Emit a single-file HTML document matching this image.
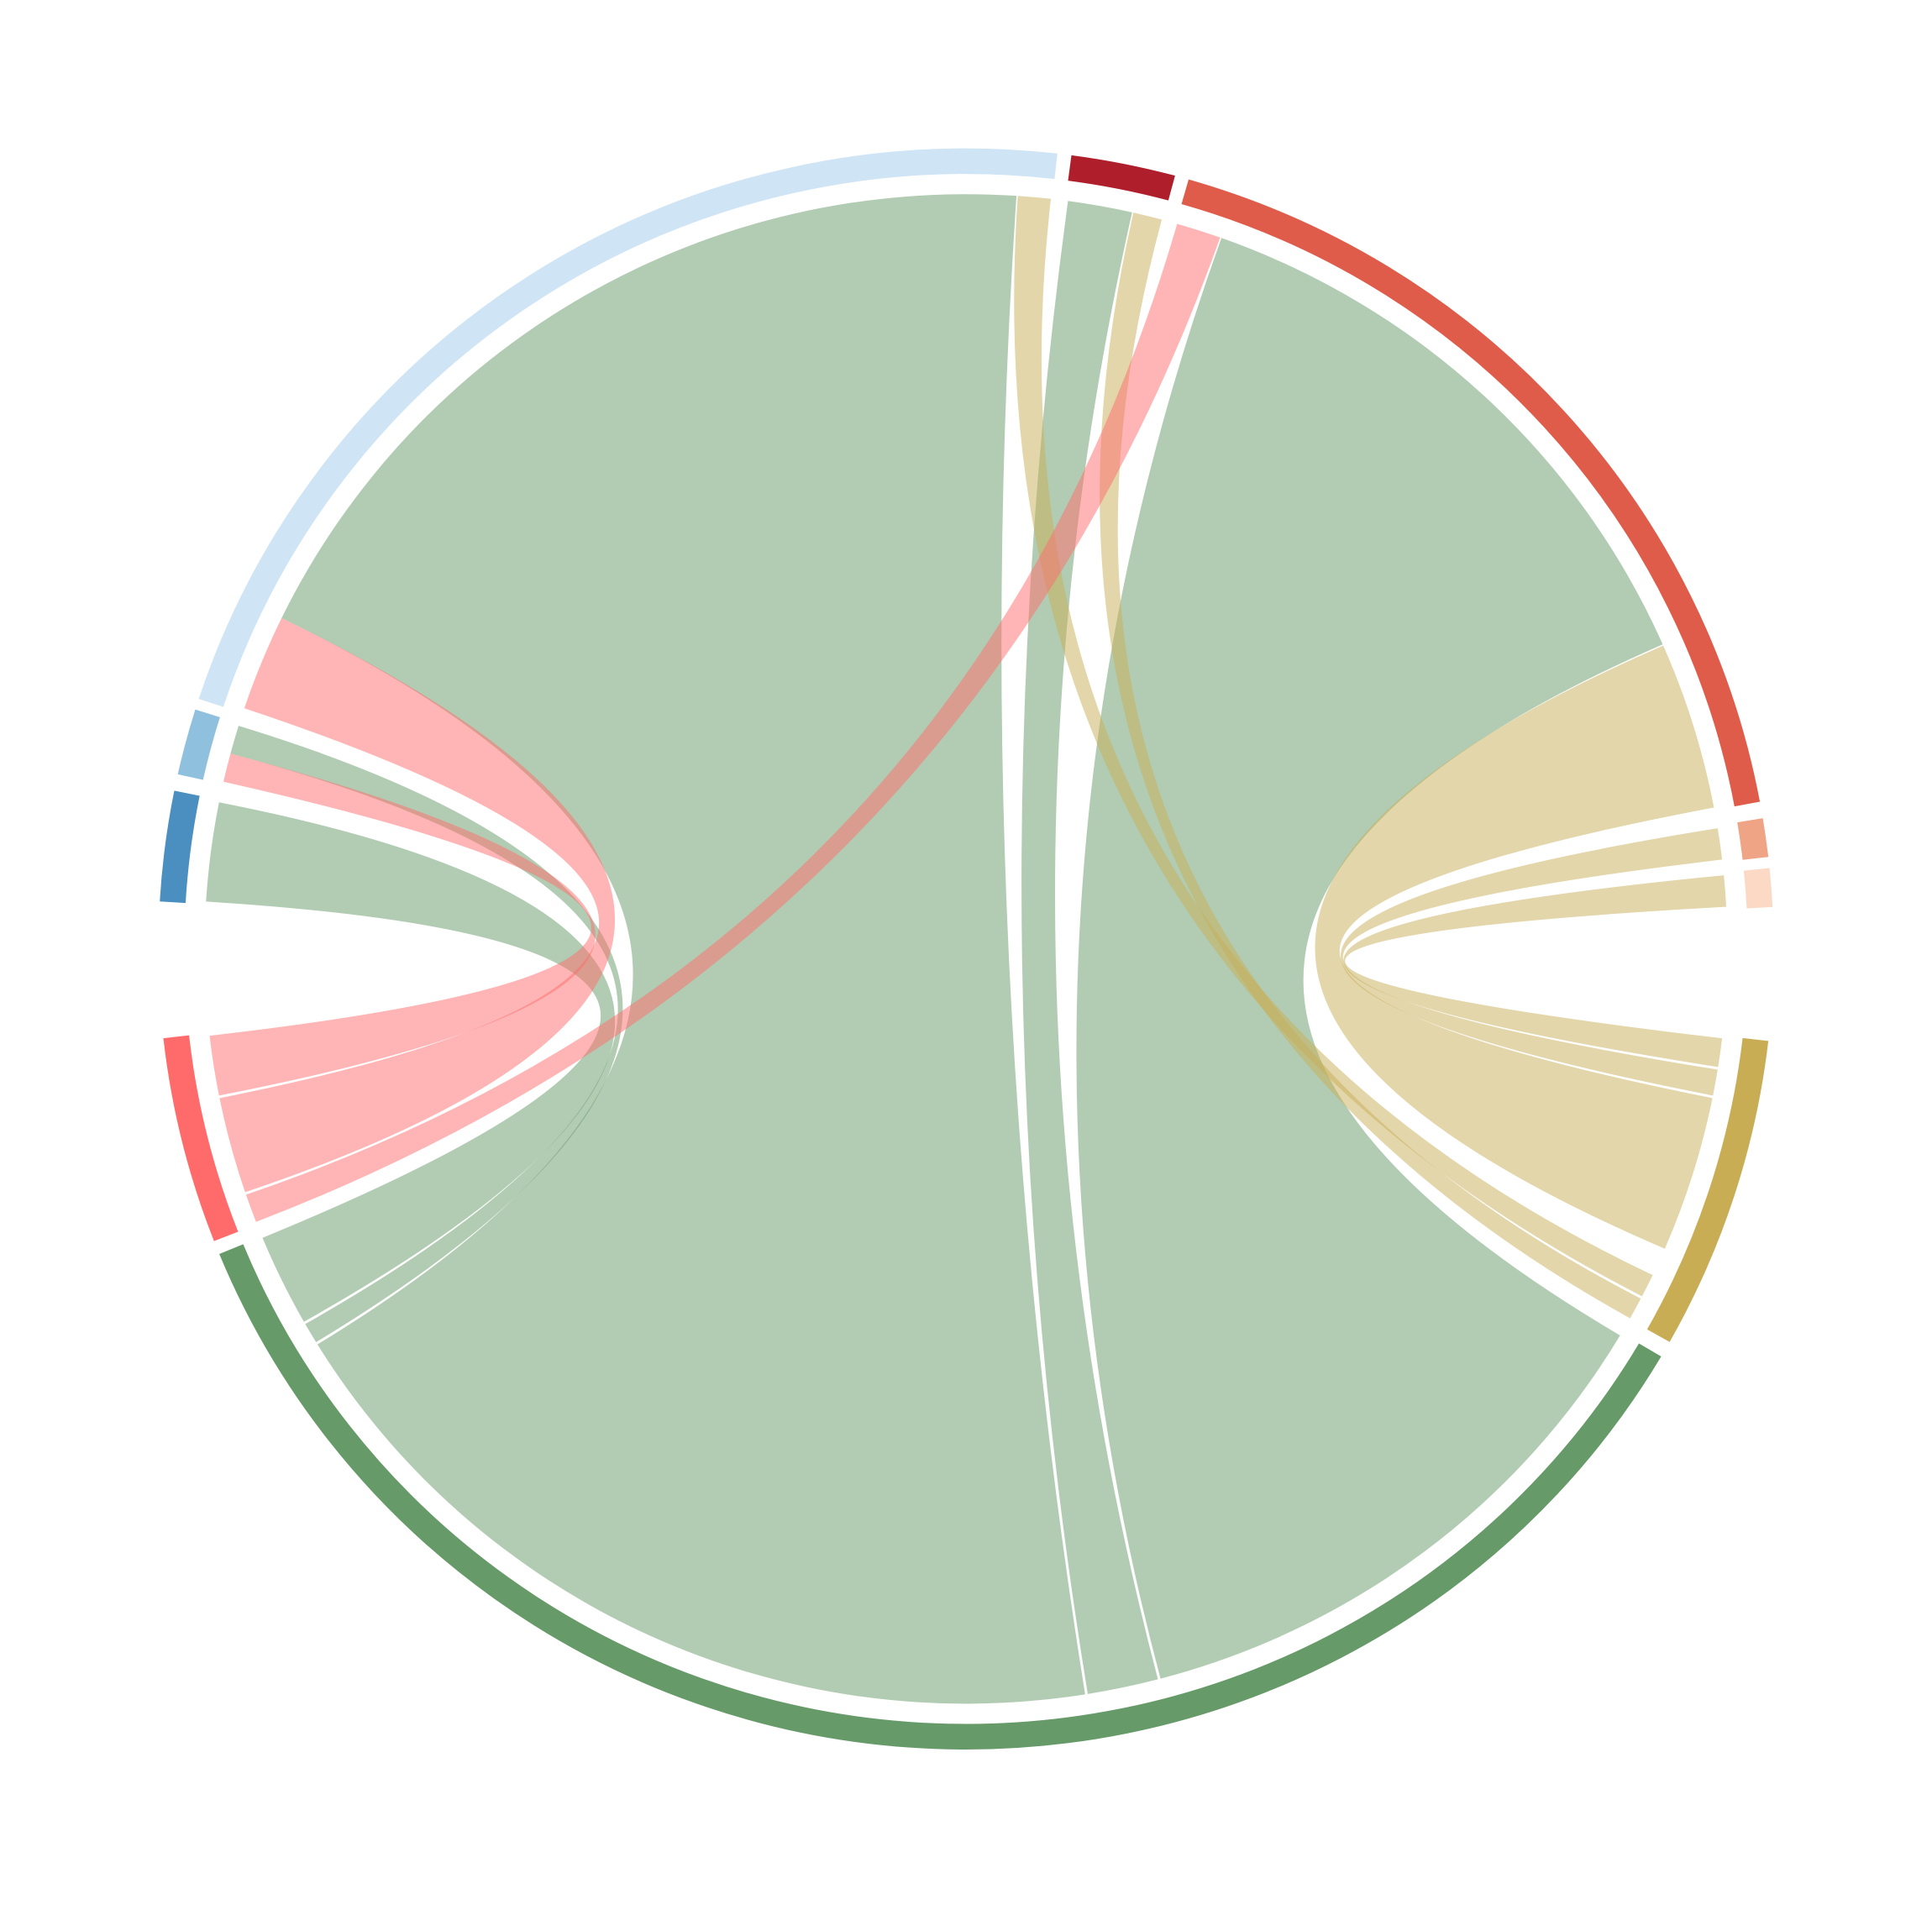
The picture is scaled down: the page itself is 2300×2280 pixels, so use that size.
<!DOCTYPE html>
<html><head><meta charset="utf-8"><style>
html,body{margin:0;padding:0;background:#fff;}
svg{display:block;}
</style></head><body>
<svg id="chart" width="2300" height="2280" viewBox="0 0 1568 1568" preserveAspectRatio="none" xmlns="http://www.w3.org/2000/svg">
<g id="chords"></g>
<g id="ring"></g>
</svg>
<script>
// segment data (angles in degrees, clockwise from top)
const segNames = ["light-blue","dark-red","orange-red","salmon","peach","gold","green","red","dark-blue","medium-blue"];
const segColors = ["#cfe4f5","#ae1f2b","#e05c4a","#f0a486","#fbd9c4","#c8ad55","#669a68","#ff6b6b","#4a8fc0","#8fc1de"];
const segStart = [288.2, 7.5, 16.0, 80.6, 84.2, 96.6, 120.6, 248.6, 273.4, 282.6];
const segEnd   = [366.5, 15.0, 79.4, 83.4, 87.0, 119.4, 247.6, 263.6, 281.4, 287.4];
// chord data: [a1,a2] <-> [b1,b2], colour from segment index
const chordNames = ["lightblue-green","darkred-green","orange-green","mediumblue-green","darkblue-green","lightblue-gold","darkred-gold","orange-gold","salmon-gold","peach-gold","orange-red","lightblue-red","mediumblue-red"];
const chordA1 = [296.0, 7.7, 19.6, 285.0, 273.6, 3.9, 12.7, 66.3, 80.8, 84.4, 16.1, 288.6, 282.8];
const chordA2 = [363.8, 12.6, 66.2, 287.2, 281.2, 6.4, 14.9, 79.2, 83.2, 86.8, 19.5, 296.0, 285.0];
const chordB1 = [171.0, 165.4, 120.8, 238.6, 240.4, 115.6, 117.6, 101.4, 99.2, 96.8, 248.8, 251.2, 258.8];
const chordB2 = [238.4, 170.8, 165.2, 240.2, 247.5, 117.4, 119.3, 113.4, 101.2, 99.0, 251.0, 258.6, 263.4];
const chordSeg = [6, 6, 6, 6, 6, 5, 5, 5, 5, 5, 7, 7, 7];

const cx = 784, cy = 777, rChord = 618, rRing = 645, ringW = 21;
const NS = "http://www.w3.org/2000/svg";
function pt(r, deg){ const t = deg*Math.PI/180; return [cx + r*Math.sin(t), cy - r*Math.cos(t)]; }
function arc(r, a1, a2){
  const p = pt(r, a2); const large = (a2-a1) > 180 ? 1 : 0;
  return `A ${r} ${r} 0 ${large} 1 ${p[0].toFixed(2)} ${p[1].toFixed(2)}`;
}
const ring = document.getElementById('ring');
for (let i=0;i<segNames.length;i++){
  const p0 = pt(rRing, segStart[i]);
  const el = document.createElementNS(NS,'path');
  el.setAttribute('d', `M ${p0[0].toFixed(2)} ${p0[1].toFixed(2)} ` + arc(rRing, segStart[i], segEnd[i]));
  el.setAttribute('fill','none');
  el.setAttribute('stroke', segColors[i]);
  el.setAttribute('stroke-width', ringW);
  
  
  ring.appendChild(el);
}
const chords = document.getElementById('chords');
for (let i=0;i<chordNames.length;i++){
  const a1=chordA1[i], a2=chordA2[i], b1=chordB1[i], b2=chordB2[i];
  const pa1=pt(rChord,a1), pb1=pt(rChord,b1);
  const d = `M ${pa1[0].toFixed(2)} ${pa1[1].toFixed(2)} ` + arc(rChord,a1,a2) +
    ` Q ${cx} ${cy} ${pb1[0].toFixed(2)} ${pb1[1].toFixed(2)} ` + arc(rChord,b1,b2) +
    ` Q ${cx} ${cy} ${pa1[0].toFixed(2)} ${pa1[1].toFixed(2)} Z`;
  const el = document.createElementNS(NS,'path');
  el.setAttribute('d', d);
  el.setAttribute('fill', segColors[chordSeg[i]]);
  el.setAttribute('fill-opacity', '0.5');
  el.setAttribute('stroke', 'none');
  
  
  chords.appendChild(el);
}
</script>
</body></html>
